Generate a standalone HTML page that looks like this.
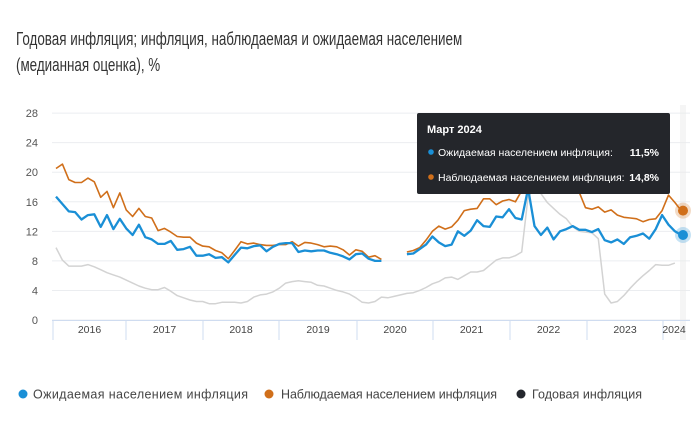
<!DOCTYPE html>
<html><head><meta charset="utf-8"><style>
body{margin:0;background:#fff;width:700px;height:424px;overflow:hidden;font-family:"Liberation Sans","DejaVu Sans",sans-serif}
.t{position:absolute;left:16px;top:26px;font-size:18px;line-height:26px;color:#333;transform:scaleX(0.745);transform-origin:0 0;white-space:nowrap}
</style></head><body>
<div class="t">Годовая инфляция; инфляция, наблюдаемая и ожидаемая населением<br>(медианная оценка), %</div>
<svg id="s" width="700" height="424" style="position:absolute;left:0;top:0" xmlns="http://www.w3.org/2000/svg"></svg>
<script>
const B=[16.7,15.7,14.7,14.6,13.6,14.2,14.3,12.6,14.2,12.3,13.7,12.4,
11.5,12.9,11.2,10.9,10.3,10.3,10.7,9.5,9.6,9.9,8.7,8.7,
8.9,8.4,8.5,7.8,8.8,9.8,9.7,10.0,10.1,9.3,9.9,10.3,
10.4,10.4,9.2,9.4,9.3,9.4,9.4,9.1,8.9,8.6,8.2,8.9,
9.0,8.3,8.0,8.0,null,null,null,8.9,9.0,9.6,10.2,11.3,
10.5,10.0,10.2,12.0,11.4,12.1,13.5,12.7,12.6,14.0,13.9,15.0,
13.8,13.6,17.8,12.7,11.5,12.5,10.9,12.0,12.3,12.7,12.2,12.2,
11.9,12.3,10.8,10.5,10.9,10.3,11.2,11.4,11.7,11.0,12.3,14.2,
12.9,12.0,11.5];
const O=[20.5,21.1,19.0,18.6,18.6,19.2,18.7,16.6,17.4,15.2,17.2,14.9,
14.0,15.1,14.0,13.8,12.1,12.4,11.9,11.3,11.2,11.2,10.4,10.0,
9.9,9.4,9.1,8.3,9.4,10.6,10.3,10.4,10.2,10.1,10.1,10.2,
10.2,10.6,10.0,10.5,10.4,10.2,9.9,10.0,9.9,9.5,8.8,9.5,
9.3,8.5,8.7,8.2,null,null,null,9.2,9.4,9.8,10.8,12.0,
12.7,12.3,12.6,13.5,14.8,15.0,15.1,16.4,16.4,15.6,16.1,16.3,
16.0,17.5,22,21,20,19.5,19,19,18.5,18.5,17.3,15.2,
15.0,15.3,14.6,14.9,14.2,13.9,13.8,13.7,13.3,13.6,13.7,14.8,
16.9,15.9,14.8];
const G=[9.8,8.1,7.3,7.3,7.3,7.5,7.2,6.8,6.4,6.1,5.8,5.4,
5.0,4.6,4.3,4.1,4.1,4.4,3.9,3.3,3.0,2.7,2.5,2.5,
2.2,2.2,2.4,2.4,2.4,2.3,2.5,3.1,3.4,3.5,3.8,4.3,
5.0,5.2,5.3,5.2,5.1,4.7,4.6,4.3,4.0,3.8,3.5,3.0,
2.4,2.3,2.5,3.1,3.0,3.2,3.4,3.6,3.7,4.0,4.4,4.9,
5.2,5.7,5.8,5.5,6.0,6.5,6.5,6.7,7.4,8.1,8.4,8.4,
8.7,9.2,16.7,17.8,17.1,15.9,15.1,14.3,13.7,12.6,12.0,11.9,
11.8,11.0,3.5,2.3,2.5,3.3,4.3,5.2,6.0,6.7,7.5,7.4,
7.4,7.7];
const X=m=>56+m*6.38, Y=v=>320-v*7.39;
let h='';
for(let v=0;v<=28;v+=4){const y=Y(v);h+=`<line x1="52" x2="690" y1="${y}" y2="${y}" stroke="#ebedf0" stroke-width="1"/><text x="38" y="${y+4}" font-size="11" fill="#555" text-anchor="end">${v}</text>`;}
h+=`<line x1="683" x2="683" y1="105" y2="340" stroke="#ececec" stroke-width="6" opacity=".5"/>`;
h+=`<line x1="52" x2="690" y1="320.5" y2="320.5" stroke="#cfdcf0"/>`;
const bd=[53,126,203,279,357,433,510,587,663];
bd.forEach(x=>h+=`<line x1="${x}" x2="${x}" y1="320" y2="340" stroke="#cfdcf0"/>`);
const yrs=['2016','2017','2018','2019','2020','2021','2022','2023'];
yrs.forEach((t,i)=>h+=`<text x="${(bd[i]+bd[i+1])/2}" y="333" font-size="10.5" fill="#444" text-anchor="middle">${t}</text>`);
h+=`<text x="674" y="333" font-size="10.5" fill="#444" text-anchor="middle">2024</text>`;
function path(d,c,w){let s='',pen=false;d.forEach((v,i)=>{if(v==null){pen=false;return;}s+=(pen?'L':'M')+X(i).toFixed(1)+','+Y(v).toFixed(1);pen=true;});return `<path d="${s}" fill="none" stroke="${c}" stroke-width="${w}" stroke-linejoin="round"/>`;}
h+=path(G,'#d3d3d3',1.5)+path(O,'#d06f1a',1.6)+path(B,'#1a8fd6',2.3);
h+=`<circle cx="683" cy="${Y(14.8)}" r="8" fill="#d06f1a" opacity=".25"/><circle cx="683" cy="${Y(14.8)}" r="5" fill="#d06f1a"/>`;
h+=`<circle cx="683" cy="${Y(11.5)}" r="8" fill="#1a8fd6" opacity=".25"/><circle cx="683" cy="${Y(11.5)}" r="5" fill="#1a8fd6"/>`;
h+=`<rect x="417" y="113" width="253" height="81" rx="2" fill="#24262b"/>
<text x="427" y="133" font-size="11" font-weight="bold" fill="#fff">Март 2024</text>
<circle cx="431" cy="152" r="2.8" fill="#1a8fd6"/><text x="438" y="156" font-size="10.5" fill="#fff">Ожидаемая населением инфляция:</text><text x="659" y="156" font-size="10.5" font-weight="bold" fill="#fff" text-anchor="end">11,5%</text>
<circle cx="431" cy="177" r="2.8" fill="#d06f1a"/><text x="438" y="181" font-size="10.5" fill="#fff">Наблюдаемая населением инфляция:</text><text x="659" y="181" font-size="10.5" font-weight="bold" fill="#fff" text-anchor="end">14,8%</text>`;
h+=`<circle cx="23" cy="394" r="4.5" fill="#1a8fd6"/><text x="33" y="398.5" font-size="12.5" fill="#444" textLength="215">Ожидаемая населением инфляция</text>
<circle cx="269" cy="394" r="4.5" fill="#d06f1a"/><text x="281" y="398.5" font-size="12.5" fill="#444" textLength="216">Наблюдаемая населением инфляция</text>
<circle cx="521" cy="394" r="4.5" fill="#23262d"/><text x="532" y="398.5" font-size="12.5" fill="#444" textLength="110">Годовая инфляция</text>`;
document.getElementById('s').innerHTML=h;
</script>
</body></html>
